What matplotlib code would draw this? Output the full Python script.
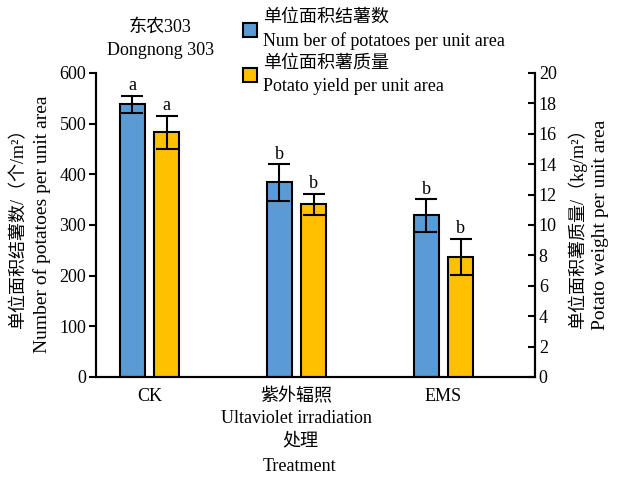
import numpy as np
import matplotlib
matplotlib.use('Agg')
import matplotlib.pyplot as plt
from matplotlib.patches import Patch

plt.rcParams['font.family'] = ['Liberation Serif', 'Noto Sans CJK SC']

groups = ['CK', '紫外辐照', 'EMS']
group_sub = ['', 'Ultaviolet irradiation', '']
count = [538, 384, 319]          # potatoes per m2
count_err = [17, 36, 32]
count_sig = ['a', 'b', 'b']
weight = [16.1, 11.35, 7.9]      # kg per m2
weight_err = [1.1, 0.72, 1.2]
weight_sig = ['a', 'b', 'b']

blue = '#5B9BD5'
orange = '#FFC000'
fs = 13

fig = plt.figure(figsize=(6.17, 4.78), dpi=100)
ax = fig.add_axes([0.1556, 0.2113, 0.711, 0.636])
ax2 = ax.twinx()

x = np.arange(len(groups))
w = 0.17
off = 0.117

ax.bar(x - off, count, w, color=blue, edgecolor='black', linewidth=1.5, zorder=2)
ax.errorbar(x - off, count, yerr=count_err, fmt='none', ecolor='black',
            elinewidth=1.5, capsize=8, capthick=1.5, zorder=3)
ax2.bar(x + off, weight, w, color=orange, edgecolor='black', linewidth=1.5, zorder=2)
ax2.errorbar(x + off, weight, yerr=weight_err, fmt='none', ecolor='black',
             elinewidth=1.5, capsize=8, capthick=1.5, zorder=3)

for i in range(len(groups)):
    ax.text(x[i] - off, count[i] + count_err[i] + 3, count_sig[i],
            ha='center', va='bottom', fontsize=fs)
    ax2.text(x[i] + off, weight[i] + weight_err[i] + 0.1, weight_sig[i],
             ha='center', va='bottom', fontsize=fs)

ax.set_xlim(-0.364, 2.62)
ax.set_ylim(0, 600)
ax2.set_ylim(0, 20)
ax.set_yticks(np.arange(0, 601, 100))
ax2.set_yticks(np.arange(0, 21, 2))

for a in (ax, ax2):
    a.spines['top'].set_visible(False)
    for s in a.spines.values():
        s.set_linewidth(1.5)
ax.tick_params(axis='y', direction='out', length=5, width=1.5, labelsize=fs, pad=2)
ax2.tick_params(axis='y', direction='in', length=5, width=1.5, labelsize=fs, pad=3)
ax.tick_params(axis='x', length=0, labelsize=fs, pad=8)
ax.set_xticks(x)
ax.set_xticklabels(groups)

# second line under the category names
for i, t in enumerate(group_sub):
    if t:
        ax.text(x[i], -0.108, t, transform=ax.get_xaxis_transform(),
                ha='center', va='top', fontsize=fs)

fig.text(0.486, 0.077, '处理', ha='center', va='center', fontsize=fs)
fig.text(0.486, 0.025, 'Treatment', ha='center', va='center', fontsize=fs)

fig.text(0.03, 0.53, '单位面积结薯数/（个/m²）', rotation=90,
         ha='center', va='center', fontsize=fs)
fig.text(0.068, 0.53, 'Number of potatoes per unit area', rotation=90,
         ha='center', va='center', fontsize=14)
fig.text(0.935, 0.53, '单位面积薯质量/（kg/m²）', rotation=90,
         ha='center', va='center', fontsize=fs)
fig.text(0.973, 0.53, 'Potato weight per unit area', rotation=90,
         ha='center', va='center', fontsize=14)

fig.text(0.26, 0.943, '东农303', ha='center', va='center', fontsize=fs)
fig.text(0.26, 0.895, 'Dongnong 303', ha='center', va='center', fontsize=fs)

# legend: swatch + Chinese name, English name underneath
leg = fig.legend(handles=[Patch(facecolor=blue, edgecolor='black', linewidth=1.5),
                          Patch(facecolor=orange, edgecolor='black', linewidth=1.5)],
                 labels=['单位面积结薯数\nNum ber of potatoes per unit area',
                         '单位面积薯质量\nPotato yield per unit area'],
                 loc='upper left', bbox_to_anchor=(0.367, 1.015), frameon=False,
                 fontsize=fs, handlelength=0.8, handleheight=0.8, handletextpad=0.35,
                 labelspacing=0.25)
for t in leg.get_texts():
    t.set_linespacing(1.45)

fig.savefig('out.png', dpi=100)
